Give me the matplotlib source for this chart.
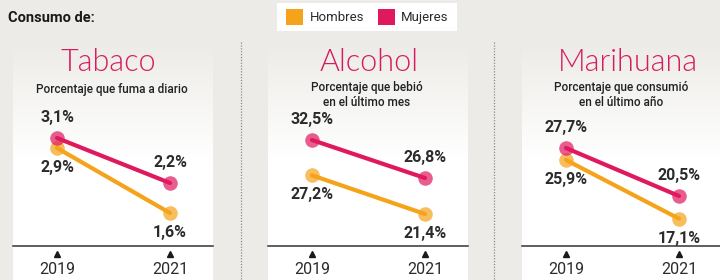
import numpy as np
import matplotlib.pyplot as plt
from matplotlib.patches import Rectangle
from matplotlib.transforms import blended_transform_factory

years = ['2019', '2021']
substances = ['Tabaco', 'Alcohol', 'Marihuana']
subtitles = ['Porcentaje que fuma a diario',
             'Porcentaje que bebió\nen el último mes',
             'Porcentaje que consumió\nen el último año']
hombres = [[2.9, 1.6], [27.2, 21.4], [25.9, 17.1]]
mujeres = [[3.1, 2.2], [32.5, 26.8], [27.7, 20.5]]

BG = '#ecebe7'
ORANGE = '#f5a31a'
MAGENTA = '#e0195e'
TITLE_C = '#d81b60'
DARK = '#2b2b2b'
SANS = ['Roboto', 'DejaVu Sans']

W, H = 720, 280
fig = plt.figure(figsize=(7.2, 2.8), dpi=100, facecolor=BG)

# background layer in pixel coordinates
bg = fig.add_axes([0, 0, 1, 1])
bg.axis('off')

panel_x0 = [13, 268, 522]
panel_w = 200
title_cx = [108, 369, 628]
ylims = [(0.94, 5.06), (16.6, 47.5), (13.0, 43.9)]

# soft gradient panels (light at top, white lower down)
grad = np.linspace(0, 1, 200).reshape(-1, 1)
top = np.array([236, 235, 231]) / 255
white = np.array([1.0, 1.0, 1.0])
t = np.clip(grad * 2.0, 0, 1)
img = (top * (1 - t[..., None]) + white * t[..., None]).reshape(200, 1, 3)
for x0 in panel_x0:
    bg.imshow(img, extent=[x0, x0 + panel_w, H, 40], aspect='auto',
              origin='upper', zorder=0, interpolation='bilinear')
bg.set_xlim(0, W)
bg.set_ylim(H, 0)

# dotted separators
for xs in [241, 494]:
    bg.plot([xs, xs], [42, H], color='#8a8a8a', lw=0.9,
            linestyle=(0, (1, 1.3)), zorder=1)

# header
bg.text(8, 18, 'Consumo de:', fontsize=10.5, fontweight='bold',
        family=SANS, color='#1a1a1a', va='center', ha='left')

# legend box
bg.add_patch(Rectangle((277, 3), 180, 28, facecolor='white', edgecolor='none', zorder=2))
bg.add_patch(Rectangle((286, 9), 17, 16, facecolor=ORANGE, edgecolor='none', zorder=3))
bg.add_patch(Rectangle((378, 9), 17, 16, facecolor=MAGENTA, edgecolor='none', zorder=3))
bg.text(310, 17.5, 'Hombres', fontsize=9.5, family=SANS, color=DARK,
        va='center', ha='left', zorder=3)
bg.text(401, 17.5, 'Mujeres', fontsize=9.5, family=SANS, color=DARK,
        va='center', ha='left', zorder=3)


def fmt(v):
    return f'{v:.1f}'.replace('.', ',') + '%'


xpos = np.arange(len(years))
for i, name in enumerate(substances):
    x0 = panel_x0[i]
    ax = fig.add_axes([x0 / W, (H - 246) / H, panel_w / W, 206 / H])
    ax.patch.set_alpha(0)
    ax.set_xlim(-44 / 113, 1 + 43 / 113)
    ax.set_ylim(*ylims[i])
    for s in ['top', 'left', 'right']:
        ax.spines[s].set_visible(False)
    ax.spines['bottom'].set_color('#333333')
    ax.spines['bottom'].set_linewidth(1.1)
    ax.set_xticks([])
    ax.set_yticks([])

    for vals, col, off in [(hombres[i], ORANGE, -14), (mujeres[i], MAGENTA, 14.5)]:
        ax.scatter(xpos, vals, s=110, color=col, alpha=0.7, lw=0, zorder=2)
        ax.plot(xpos, vals, color=col, lw=3, solid_capstyle='round', zorder=3)
        for xv, v in zip(xpos, vals):
            ax.annotate(fmt(v), (xv, v), xytext=(0, off), textcoords='offset points',
                        ha='center', va='center', fontsize=11.5, fontweight='bold',
                        family=SANS, color=DARK)

    tr = blended_transform_factory(ax.transData, ax.transAxes)
    ax.plot(xpos, [-8 / 206] * len(xpos), marker='^', ls='none', ms=4.5,
            color='#1a1a1a', transform=tr, clip_on=False)
    for xv, yr in zip(xpos, years):
        ax.text(xv, -23 / 206, yr, transform=tr, ha='center', va='center',
                fontsize=11.5, family=SANS, color=DARK)

    bg.text(title_cx[i], 71, name, fontsize=22, family='Lato', fontweight=300,
            color=TITLE_C, ha='center', va='baseline', zorder=3)
    bg.text(x0 + panel_w / 2 - 1, 89 if '\n' not in subtitles[i] else 95,
            subtitles[i], fontsize=8.5, family=SANS, fontweight=500, color='#222222',
            ha='center', va='center', linespacing=1.1, zorder=3)

fig.savefig('out.png', dpi=100, facecolor=BG)
